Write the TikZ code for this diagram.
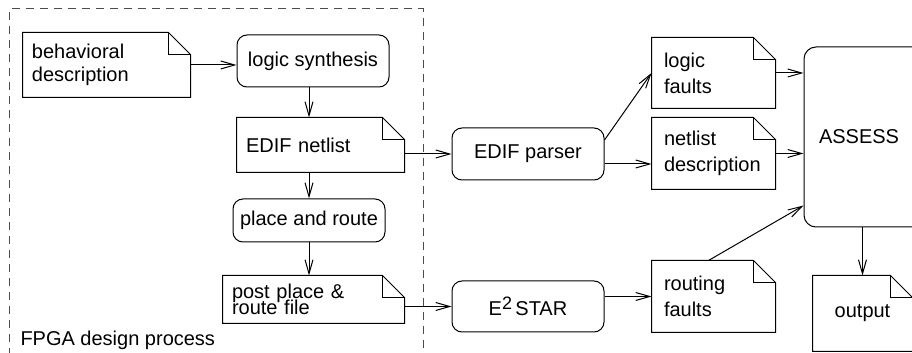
\documentclass[tikz,border=0pt]{standalone}
\usepackage{fontspec}
\setmainfont{Liberation Sans}
\usepackage{tikz}
\usetikzlibrary{arrows.meta}
\usetikzlibrary{calc}
\tikzset{%
    note/.style={
        rectangle, align=left, inner xsep=4.5pt, inner ysep=0pt,
        append after command={%
            \pgfextra{%
                \draw (\tikzlastnode.south west) -- (\tikzlastnode.north west)
                    -- ([xshift=-11pt]\tikzlastnode.north east)
                    -- ([yshift=-11pt]\tikzlastnode.north east)
                    -- (\tikzlastnode.south east) -- cycle;
                \draw ([xshift=-11pt]\tikzlastnode.north east)
                    |- ([yshift=-11pt]\tikzlastnode.north east);
            }
        }
    }
}
\tikzset{tool/.style={draw, rectangle, rounded corners=5pt, inner sep=0pt, align=center}}
\tikzset{frame/.style={draw=black!70, dash pattern=on 4pt off 3pt}}

\begin{document}
\begin{tikzpicture}[x=0.5pt, y=-0.5pt, line width=0.5pt, >={Straight Barb[length=7pt,width=4pt]}]
		\useasboundingbox (0,0) rectangle (912,353);
		\clip (0,0) rectangle (912,353);

		% design flow inside the dashed frame
		\draw[frame] (9,370) |- (423,9) -- (423,370);
		\node[anchor=base west, inner sep=0pt] (fpgalbl) at (20,346) {FPGA design process};

		\node[note, text width=74.5pt, minimum height=32pt, font=\fontsize{10pt}{11.5pt}\selectfont] (behav) at (106.5,65) {behavioral\\description};
		\node[tool, minimum width=76pt, minimum height=26pt] (synth) at (313,61) {logic synthesis};
		\node[note, text width=74.5pt, minimum height=27pt] (netlist) at (320.5,145) {EDIF netlist};
		\node[tool, minimum width=76pt, minimum height=21.5pt] (place) at (309,220.5) {place and route};
		\node[note, text width=81.5pt, minimum height=23.5pt] (post) at (313.5,299.5) {post place \&\\[-4pt]route file};

		% tools
		\node[tool, minimum width=76pt, minimum height=26pt] (parser) at (528,154) {EDIF parser};
		\node[tool, minimum width=76pt, minimum height=25.5pt] (estar) at (528,306.5) {E\raisebox{0.55ex}{\fontsize{9pt}{9pt}\selectfont 2}\,STAR};

		% fault lists
		\node[note, inner xsep=6pt, text width=49.5pt, minimum height=35pt, font=\fontsize{10pt}{13pt}\selectfont] (lfaults) at (713.5,73) {logic\\faults};
		\node[note, inner xsep=6pt, text width=49.5pt, minimum height=35.5pt, font=\fontsize{10pt}{13pt}\selectfont] (ndesc) at (713.5,153.5) {netlist\\description};
		\node[note, inner xsep=6pt, text width=49.5pt, minimum height=35.5pt, font=\fontsize{10pt}{13pt}\selectfont] (rfaults) at (713.5,296.5) {routing\\faults};

		\node[draw, rectangle, rounded corners=6pt, inner xsep=7.5pt, text width=48pt, minimum height=90pt, align=left] (assess) at (867,137) {ASSESS};
		\node[note, inner xsep=0pt, text width=49.5pt, minimum height=37.5pt, align=center] (output) at (862.5,313.5) {output};

		\draw[->] (behav.east) -- (behav.east -| synth.west);
		\draw[->] (synth.south -| place.north) -- (netlist.north -| place.north);
		\draw[->] (netlist.south -| place.north) -- (place.north);
		\draw[->] (place.south) -- (place.south |- post.north);

		\draw[->] (netlist.east |- parser.west) -- (parser.west);
		\draw[->] (post.east |- estar.west) -- (estar.west);

		\draw[->] ([yshift=7pt]parser.east) -- (lfaults.west);
		\draw[->] ([yshift=-5pt]parser.east) -- ([yshift=-5pt]parser.east -| ndesc.west);
		\draw[->] (rfaults.west -| estar.east) -- (rfaults.west);

		\draw[->] (lfaults.east) -- (lfaults.east -| assess.west);
		\draw[->] (ndesc.east) -- (ndesc.east -| assess.west);
		\draw[->] ([xshift=-2.5pt]rfaults.north) -- ([yshift=11pt]assess.south west);
		\draw[->] (output.north |- assess.south) -- (output.north);
	\end{tikzpicture}
\end{document}
